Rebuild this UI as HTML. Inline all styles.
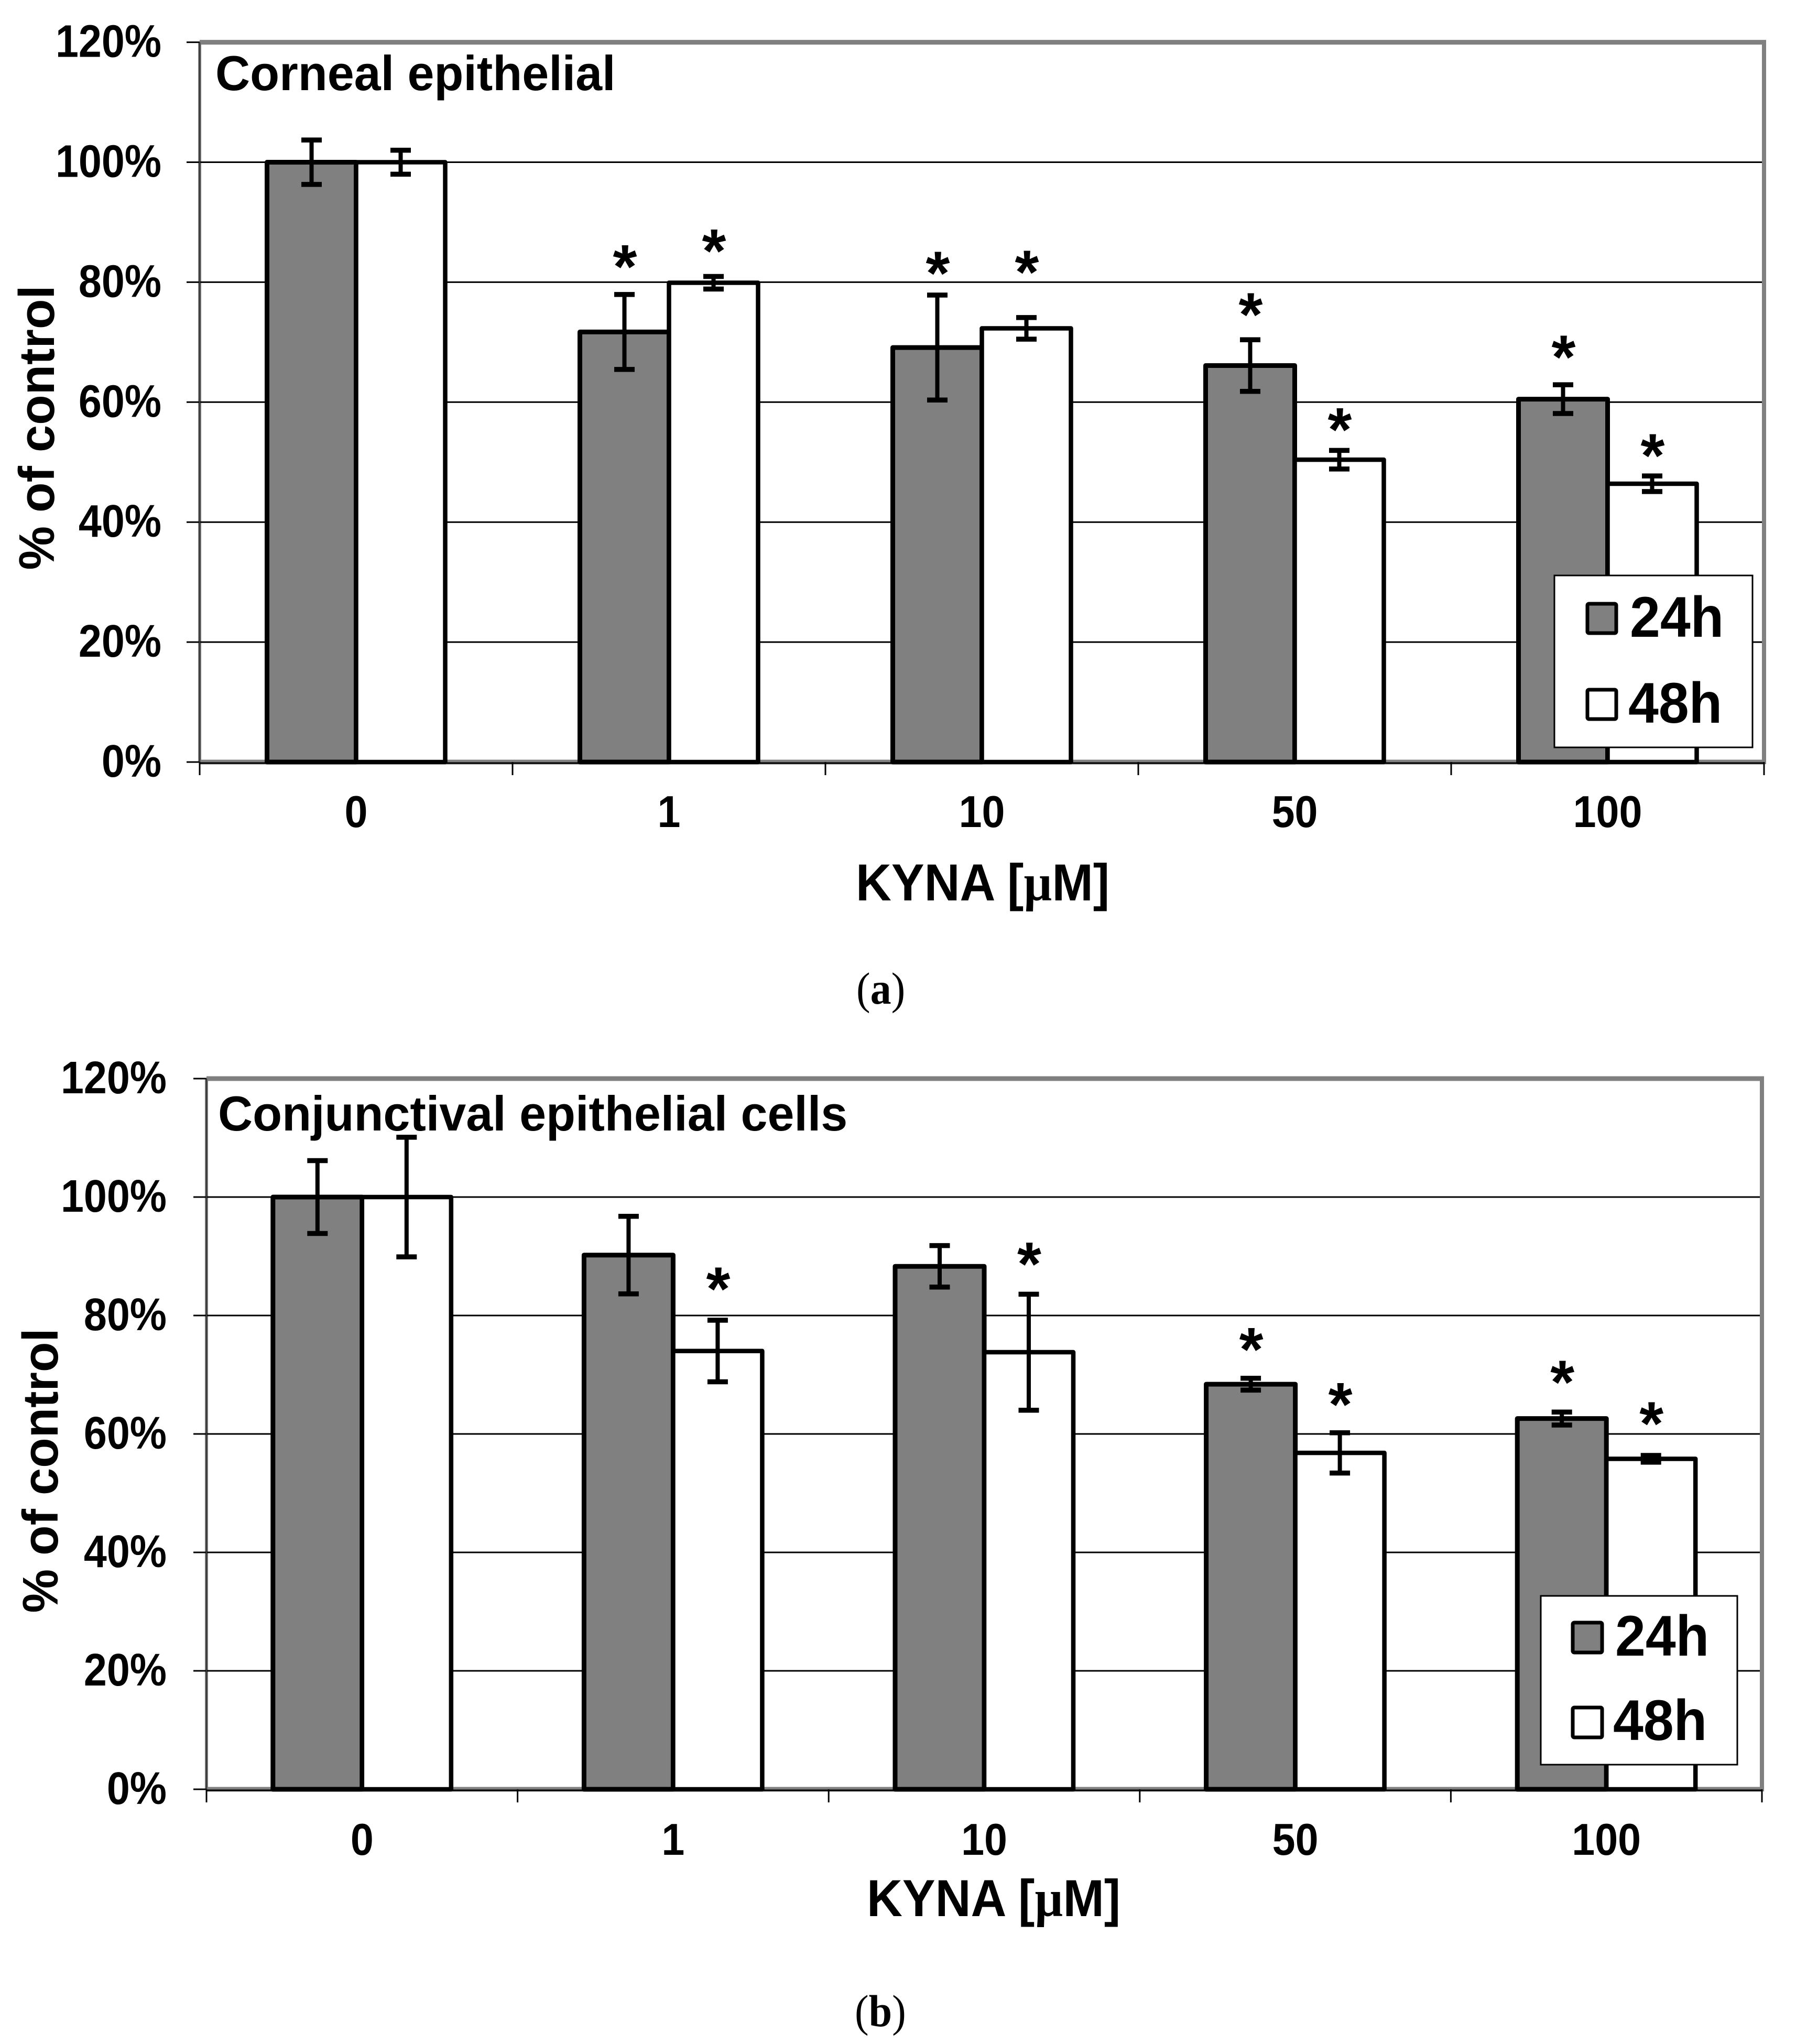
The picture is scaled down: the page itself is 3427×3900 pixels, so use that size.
<!DOCTYPE html>
<html lang="en">
<head>
<meta charset="utf-8">
<title>KYNA viability of corneal and conjunctival epithelial cells</title>
<style>
html,body{margin:0;padding:0;background:#fff;width:3427px;height:3900px;overflow:hidden}
svg{display:block}
text{font-family:"Liberation Sans",Arial,sans-serif;font-weight:bold;fill:#000}
.cap{font-family:"Liberation Serif","Times New Roman",serif;font-weight:normal}
</style>
</head>
<body>
<svg xmlns="http://www.w3.org/2000/svg" width="3427" height="3900" viewBox="0 0 3427 3900">
  <rect width="3427" height="3900" fill="#fff"/>

  <g id="panel-a"></g>
  <g>
    <text transform="translate(411,172) scale(1,1.02)" font-size="91.6">Corneal epithelial</text>
    <text transform="translate(103,816) rotate(-90) scale(1,1.02)" font-size="94" text-anchor="middle">% of control</text>
    <text transform="translate(1633,1718) scale(1,1.06)" font-size="94">KYNA [<tspan font-family="Liberation Serif">µ</tspan>M]</text>
    <g>
      <rect x="2966" y="1098" width="378" height="328" fill="#fff" stroke="#000" stroke-width="3"/>
      <rect x="3029" y="1152" width="55" height="56" rx="3" fill="#808080" stroke="#000" stroke-width="7"/>
      <rect x="3029" y="1316" width="55" height="56" rx="3" fill="#fff" stroke="#000" stroke-width="7"/>
      <text transform="translate(3110,1215) scale(1,1.05)" font-size="104">24h</text>
      <text transform="translate(3107,1379) scale(1,1.05)" font-size="104">48h</text>
    </g>
    <text class="cap" transform="translate(1634,1915) scale(1,1.07)" font-size="80">(<tspan font-weight="bold">a</tspan>)</text>
  </g>

  <g id="panel-b"></g>
  <g>
    <text transform="translate(416,2157) scale(1,1.02)" font-size="91.6">Conjunctival epithelial cells</text>
    <text transform="translate(110,2806) rotate(-90) scale(1,1.02)" font-size="94" text-anchor="middle">% of control</text>
    <text transform="translate(1654,3656) scale(1,1.06)" font-size="94">KYNA [<tspan font-family="Liberation Serif">µ</tspan>M]</text>
    <g>
      <rect x="2940" y="3045" width="375" height="322" fill="#fff" stroke="#000" stroke-width="3"/>
      <rect x="3001" y="3096" width="56" height="57" rx="3" fill="#808080" stroke="#000" stroke-width="7"/>
      <rect x="3001" y="3258" width="56" height="57" rx="3" fill="#fff" stroke="#000" stroke-width="7"/>
      <text transform="translate(3082,3159) scale(1,1.05)" font-size="104">24h</text>
      <text transform="translate(3078,3320) scale(1,1.05)" font-size="104">48h</text>
    </g>
    <text class="cap" transform="translate(1631,3866) scale(1,1.07)" font-size="80">(<tspan font-weight="bold">b</tspan>)</text>
  </g>
</svg>

<script>
var categories = ['0', '1', '10', '50', '100'];
var yTickValues = [0, 20, 40, 60, 80, 100, 120];

var panelAValues24h = [100, 71.7, 69.1, 66.1, 60.5];
var panelAValues48h = [100, 79.9, 72.3, 50.4, 46.4];
var panelAErrors24h = [3.7, 6.25, 8.75, 4.3, 2.4];
var panelAErrors48h = [2, 1.05, 1.8, 1.55, 1.3];
var panelAStars24h = [null, 84.6, 83.5, 76.6, 69.5];
var panelAStars48h = [null, 87.2, 83.65, 57.4, 53.1];

var panelBValues24h = [100, 90.2, 88.3, 68.4, 62.6];
var panelBValues48h = [100, 74, 73.8, 56.8, 55.8];
var panelBErrors24h = [6.15, 6.55, 3.5, 1, 1.1];
var panelBErrors48h = [10.1, 5.2, 9.8, 3.4, 0.57];
var panelBStars24h = [null, null, null, 76.3, 70.75];
var panelBStars48h = [null, 86.5, 90.7, 67, 63.75];

var SVG_NS = 'http://www.w3.org/2000/svg';

function makeEl(parent, tag, attrs) {
  var el = document.createElementNS(SVG_NS, tag);
  for (var k in attrs) { el.setAttribute(k, attrs[k]); }
  parent.appendChild(el);
  return el;
}

function makeLine(parent, x1, y1, x2, y2, color, width, name) {
  var el = makeEl(parent, 'line', {x1: x1, y1: y1, x2: x2, y2: y2, stroke: color, 'stroke-width': width});
  
  
  return el;
}

function drawPanel(root, prefix, geom, v24, v48, e24, e48, s24, s48) {
  var plotW = geom.right - geom.left;
  var catW = plotW / categories.length;
  var barW = 170;
  function yScale(v) { return geom.y0 + (geom.y120 - geom.y0) * v / 120; }
  function xCenter(i) { return geom.left + catW * (i + 0.5); }

  // plot frame
  makeLine(root, geom.left, geom.y120, geom.right + 4, geom.y120, '#808080', 9, prefix + '-frame-top');
  makeLine(root, geom.right, geom.y120, geom.right, geom.y0 + 4, '#808080', 8, prefix + '-frame-right');
  makeLine(root, geom.left, geom.y0, geom.right, geom.y0, '#808080', 9, prefix + '-frame-bottom');
  makeLine(root, geom.left, geom.y120, geom.left, geom.y0, '#808080', 6, prefix + '-frame-left');

  // gridlines and y ticks
  yTickValues.forEach(function (v) {
    var y = yScale(v);
    var inner = (v === 120 || v === 0) ? geom.left : geom.right - 4;
    var grid = makeLine(root, geom.left - 25, y, inner, y, '#000', 3, prefix + '-gridline-' + v);
    var label = makeEl(root, 'text', {transform: 'translate(' + geom.tickRight + ',' + (y + 28) + ') scale(1,1.1)', 'font-size': 79, 'text-anchor': 'end'});
    label.textContent = v + '%';
    
    
  });

  // axis lines
  makeLine(root, geom.left, geom.y120, geom.left, geom.y0, '#333', 2.5, prefix + '-y-axis-line');
  makeLine(root, geom.left, geom.y0 + 2, geom.right, geom.y0 + 2, '#000', 3, prefix + '-x-axis-line');

  // x ticks and labels
  for (var t = 0; t <= categories.length; t++) {
    var tx = geom.left + catW * t;
    makeLine(root, tx, geom.y0, tx, geom.y0 + 25, '#000', 3, prefix + '-x-tick-' + t);
  }
  categories.forEach(function (c, i) {
    var label = makeEl(root, 'text', {transform: 'translate(' + xCenter(i) + ',' + geom.xLabelY + ') scale(1,1.08)', 'font-size': 79, 'text-anchor': 'middle'});
    label.textContent = c;
    
    
  });

  function drawBar(i, value, dx, fill, sw, series) {
    var top = yScale(value);
    var x = xCenter(i) + dx;
    var bar = makeEl(root, 'rect', {x: x, y: top, width: barW, height: geom.y0 - top, fill: fill, stroke: '#000', 'stroke-width': sw, 'stroke-linejoin': 'round'});
    
    
  }

  function drawError(i, value, err, cx, series) {
    var yHi = yScale(value + err);
    var yLo = yScale(value - err);
    var name = prefix + '-error-bar-' + series + '-' + categories[i];
    makeLine(root, cx, yHi, cx, yLo, '#000', 8, name);
    makeLine(root, cx - 19.5, yHi, cx + 19.5, yHi, '#000', 9.5, name + '-cap-top');
    makeLine(root, cx - 19.5, yLo, cx + 19.5, yLo, '#000', 9.5, name + '-cap-bottom');
  }

  function drawStar(i, level, cx, series) {
    if (level === null) { return; }
    var star = makeEl(root, 'text', {x: cx + 1, y: yScale(level) + 63, 'font-size': 118, 'text-anchor': 'middle'});
    star.textContent = '*';
    
    
  }

  categories.forEach(function (c, i) {
    drawBar(i, v24[i], -barW, '#808080', 9, '24h');
    drawBar(i, v48[i], 0, '#fff', 8.5, '48h');
  });
  categories.forEach(function (c, i) {
    var cxA = xCenter(i) - barW / 2;
    var cxB = xCenter(i) + barW / 2;
    drawError(i, v24[i], e24[i], cxA, '24h');
    drawError(i, v48[i], e48[i], cxB, '48h');
    drawStar(i, s24[i], cxA, '24h');
    drawStar(i, s48[i], cxB, '48h');
  });
}

drawPanel(document.getElementById('panel-a'), 'panel-a',
  {left: 381, right: 3366, y120: 80.6, y0: 1454, tickRight: 308, xLabelY: 1578},
  panelAValues24h, panelAValues48h, panelAErrors24h, panelAErrors48h, panelAStars24h, panelAStars48h);

drawPanel(document.getElementById('panel-b'), 'panel-b',
  {left: 394, right: 3362, y120: 2058, y0: 3414, tickRight: 318, xLabelY: 3539},
  panelBValues24h, panelBValues48h, panelBErrors24h, panelBErrors48h, panelBStars24h, panelBStars48h);
</script>
</body>
</html>
